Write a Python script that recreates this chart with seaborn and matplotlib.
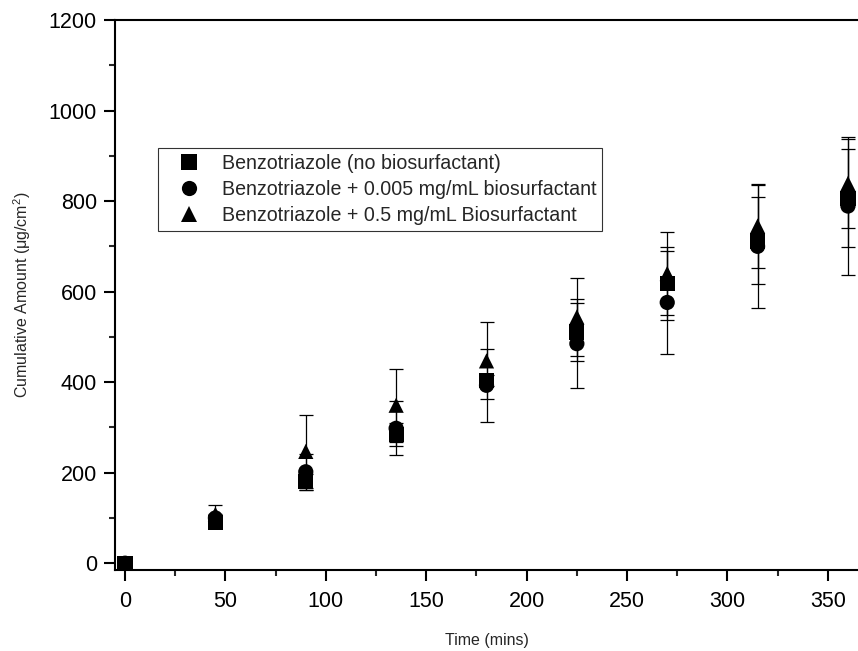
import matplotlib
matplotlib.use("Agg")
import matplotlib.pyplot as plt
import pandas as pd
import seaborn as sns
from matplotlib.ticker import MultipleLocator

# Sampling times (mins)
time_mins = [0, 45, 90, 135, 180, 225, 270, 315, 360]

# Cumulative amount (ug/cm2) and standard deviations
no_bio = [0, 90, 180, 284, 403, 511, 618, 712, 806]
no_bio_err = [0, 5, 18, 25, 12, 64, 80, 96, 108]

bio_low = [0, 100, 202, 298, 393, 485, 576, 700, 789]
bio_low_err = [0, 8, 40, 60, 80, 98, 113, 136, 152]

bio_high = [0, 108, 247, 349, 447, 544, 640, 745, 839]
bio_high_err = [0, 20, 80, 81, 85, 86, 91, 92, 98]

labels = [
    "Benzotriazole (no biosurfactant)",
    "Benzotriazole + 0.005 mg/mL biosurfactant",
    "Benzotriazole + 0.5 mg/mL Biosurfactant",
]
markers = {labels[0]: "s", labels[1]: "o", labels[2]: "^"}

series = [(no_bio, no_bio_err), (bio_low, bio_low_err), (bio_high, bio_high_err)]
frames = []
for lab, (vals, errs) in zip(labels, series):
    frames.append(pd.DataFrame({"time": time_mins, "amount": vals, "err": errs, "group": lab}))
df = pd.concat(frames, ignore_index=True)

sns.set_style("ticks")
plt.rcParams["font.family"] = ["Liberation Sans", "DejaVu Sans"]
plt.rcParams["mathtext.fontset"] = "custom"
plt.rcParams["mathtext.rm"] = "Liberation Sans"
plt.rcParams["mathtext.it"] = "Liberation Sans:italic"

fig = plt.figure(figsize=(8.58, 6.51), dpi=100)
ax = fig.add_axes([115 / 858, 1 - 570 / 651, 1 - 115 / 858, 550 / 651])

# error bars first, then markers on top
for lab in labels:
    sub = df[df["group"] == lab]
    ax.errorbar(sub["time"], sub["amount"], yerr=sub["err"], fmt="none",
                ecolor="black", elinewidth=0.9, capsize=5, capthick=0.9, zorder=2)

sns.scatterplot(data=df, x="time", y="amount", style="group", markers=markers,
                style_order=labels, color="black", s=120, edgecolor="black",
                linewidth=0, ax=ax, zorder=3)

ax.set_xlim(-5, 365)
ax.set_ylim(-15, 1200)
ax.xaxis.set_major_locator(MultipleLocator(50))
ax.xaxis.set_minor_locator(MultipleLocator(25))
ax.yaxis.set_major_locator(MultipleLocator(200))
ax.yaxis.set_minor_locator(MultipleLocator(100))
ax.tick_params(which="major", direction="out", length=8, width=1.5, labelsize=15.5, pad=5,
               colors="black")
ax.tick_params(which="minor", direction="out", length=4, width=1.5)
ax.tick_params(axis="x", which="major", pad=7)

for side in ["left", "bottom", "top"]:
    ax.spines[side].set_linewidth(1.5)
    ax.spines[side].set_color("black")
ax.spines["right"].set_visible(False)

ax.set_xlabel("Time (mins)", fontsize=11.5, labelpad=15)
ax.set_ylabel("Cumulative Amount (μg/cm$^{2}$)", fontsize=11.5, labelpad=11)

leg = ax.legend(loc="upper left", bbox_to_anchor=(158 / 858, 1 - 148 / 651),
                bbox_transform=fig.transFigure, fontsize=14.1, frameon=True,
                fancybox=False, edgecolor="black", handletextpad=0.35,
                labelspacing=0.36, borderpad=0.3, handlelength=2.6,
                borderaxespad=0, markerscale=1.0)
leg.get_frame().set_linewidth(0.8)

fig.savefig("out.png", dpi=100)
